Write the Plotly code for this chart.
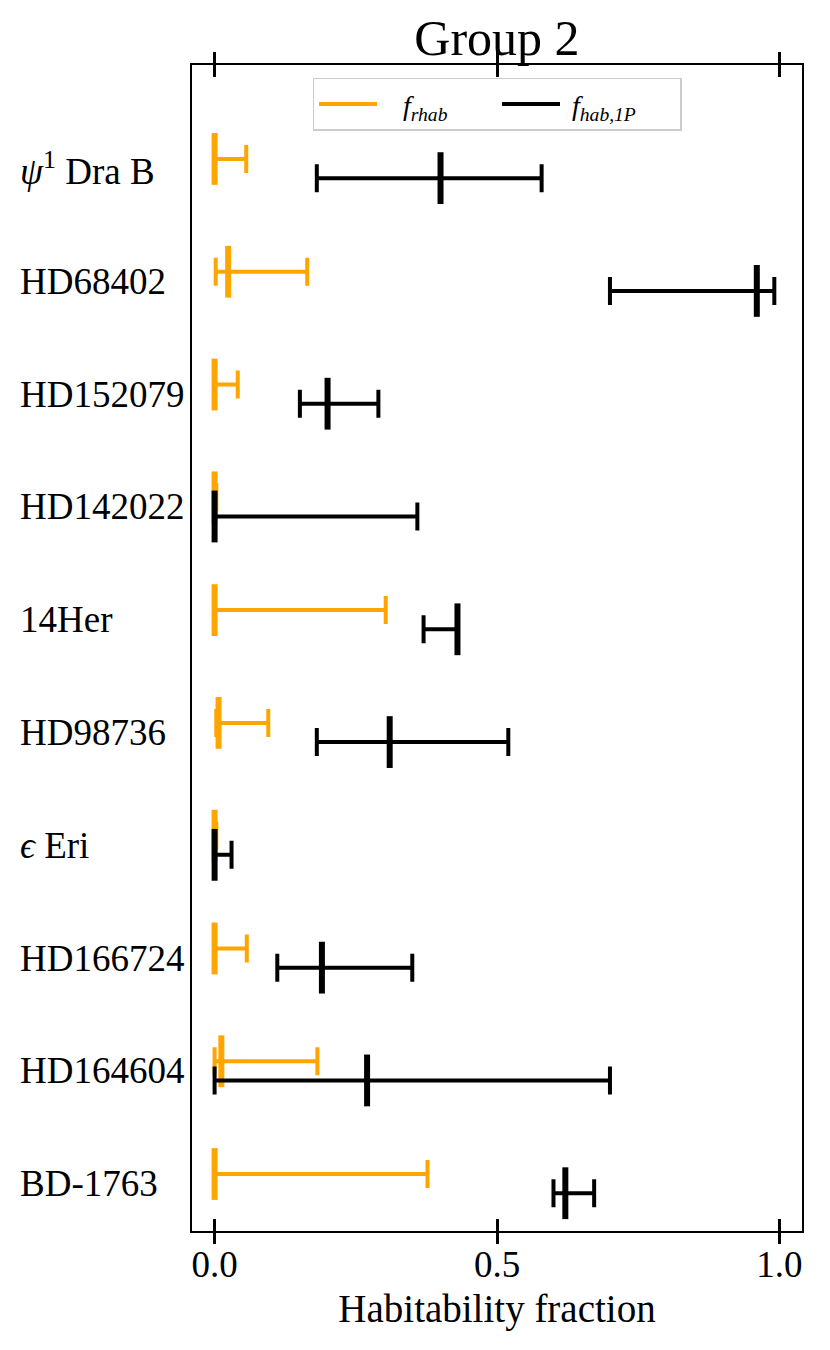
import plotly.graph_objects as go

# ---- data ----
stars = ["<i>ψ</i><sup>1</sup> Dra B", "HD68402", "HD152079", "HD142022", "14Her",
         "HD98736", "<i>ϵ</i> Eri", "HD166724", "HD164604", "BD-1763"]

rhab_lo  = [0.000, 0.002, 0.000, 0.000, 0.000, 0.003, 0.000, 0.000, 0.000, 0.000]
rhab_med = [0.000, 0.024, 0.000, 0.000, 0.000, 0.007, 0.000, 0.000, 0.012, 0.000]
rhab_hi  = [0.056, 0.164, 0.041, 0.003, 0.303, 0.095, 0.003, 0.057, 0.182, 0.377]

hab_lo  = [0.181, 0.700, 0.151, 0.000, 0.370, 0.181, 0.000, 0.111, 0.000, 0.600]
hab_med = [0.400, 0.960, 0.200, 0.000, 0.430, 0.310, 0.000, 0.190, 0.270, 0.621]
hab_hi  = [0.579, 0.991, 0.290, 0.359, 0.430, 0.520, 0.030, 0.350, 0.700, 0.672]

xticks = [0.0, 0.5, 1.0]
xticklabels = ["0.0", "0.5", "1.0"]

ORANGE = "#FFA500"
BLACK = "#000000"
FONT = "Liberation Serif, DejaVu Serif, serif"
OFF = 0.085

rows = list(range(len(stars)))

fig = go.Figure()


def add_series(lo, med, hi, color, yoff):
    fig.add_trace(go.Scatter(
        x=med,
        y=[r + yoff for r in rows],
        mode="markers",
        marker=dict(symbol="line-ns", size=37, color=color,
                    line=dict(color=color, width=6)),
        error_x=dict(type="data", symmetric=False,
                     array=[h - m for h, m in zip(hi, med)],
                     arrayminus=[m - l for m, l in zip(med, lo)],
                     color=color, thickness=4, width=14),
        showlegend=False,
        xaxis="x", yaxis="y",
    ))


add_series(rhab_lo, rhab_med, rhab_hi, ORANGE, -OFF)
add_series(hab_lo, hab_med, hab_hi, BLACK, OFF)

# legend entries (line samples)
fig.add_trace(go.Scatter(x=[None], y=[None], mode="lines",
                         line=dict(color=ORANGE, width=4),
                         name="\u00a0\u00a0\u00a0<i>f</i><sub><i>rhab</i></sub>"))
fig.add_trace(go.Scatter(x=[None], y=[None], mode="lines",
                         line=dict(color=BLACK, width=4),
                         name="\u00a0<i>f</i><sub><i>hab,1P</i></sub>"))

# overlay axis for outward ticks
fig.add_trace(go.Scatter(x=[None], y=[None], xaxis="x2", yaxis="y",
                         showlegend=False, hoverinfo="skip"))

annotations = []
for r, s in zip(rows, stars):
    annotations.append(dict(text=s, xref="paper", yref="y", x=-0.285, y=r,
                            xanchor="left", yanchor="middle", showarrow=False,
                            font=dict(family=FONT, size=37, color="black")))

fig.update_layout(
    width=830, height=1350,
    margin=dict(l=184, r=36, t=57, b=127),
    paper_bgcolor="white", plot_bgcolor="white",
    font=dict(family=FONT, color="black"),
    title=dict(text="Group 2", x=0.5, xref="paper", xanchor="center",
               y=1 - 29 / 1350, yref="container", yanchor="middle",
               font=dict(family=FONT, size=50, color="black")),
    xaxis=dict(range=[-0.04, 1.04], tickvals=xticks, ticktext=xticklabels,
               ticks="inside", ticklen=12, tickwidth=3, tickcolor="black",
               ticklabelstandoff=0,
               showline=True, linecolor="black", linewidth=1.5, mirror="ticks",
               showgrid=False, zeroline=False,
               tickfont=dict(family=FONT, size=37),
               title=dict(text="Habitability fraction", standoff=11,
                          font=dict(family=FONT, size=39))),
    xaxis2=dict(overlaying="x", matches="x", range=[-0.04, 1.04],
                tickvals=xticks, ticks="outside", ticklen=12, tickwidth=3,
                tickcolor="black", mirror="ticks", showline=False,
                showticklabels=False, showgrid=False, zeroline=False, side="bottom"),
    yaxis=dict(range=[9.42, -0.918], showticklabels=False, ticks="",
               showline=True, linecolor="black", linewidth=1.5, mirror=True,
               showgrid=False, zeroline=False),
    legend=dict(orientation="h", x=0.5, xanchor="center", y=0.989, yanchor="top",
                bgcolor="rgba(255,255,255,0.8)", bordercolor="#cccccc", borderwidth=1.5,
                font=dict(family=FONT, size=28), itemwidth=58,
                entrywidth=110, entrywidthmode="pixels"),
    annotations=annotations,
)

fig.write_html("out.html")
